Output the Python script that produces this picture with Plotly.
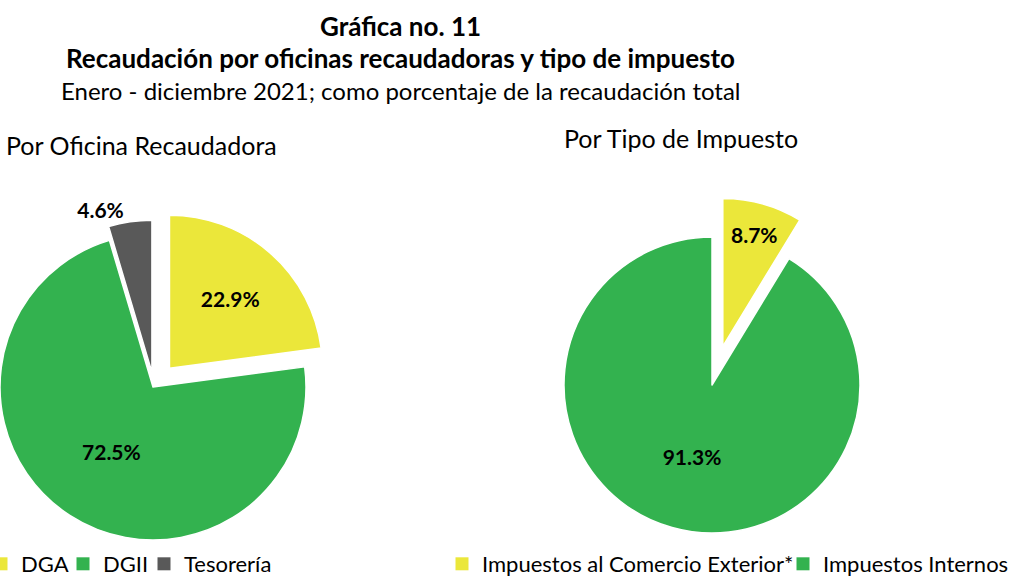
import math
import plotly.graph_objects as go

# ---- data ----
office_labels = ["DGA", "DGII", "Tesorería"]
office_values = [22.9, 72.5, 4.6]
tax_labels = ["Impuestos al Comercio Exterior*", "Impuestos Internos"]
tax_values = [8.7, 91.3]

# ---- style ----
W, H = 1019, 577
YELLOW, GREEN, GRAY = "#EBE73A", "#33B24F", "#595959"
office_colors = [YELLOW, GREEN, GRAY]
tax_colors = [YELLOW, GREEN]
office_pull_px = [25, 0, 15]
tax_pull_px = [40, 0]
office_textpos = ["inside", "inside", "outside"]
tax_textpos = ["inside", "inside"]
office_legend_x = [2, 84, 165]      # legend symbol centres (px)
tax_legend_x = [463, 804]
FONT = "Lato"


def domain(cx, cy, r):
    x0 = max(cx - r, 0)
    return dict(x=[x0 / W, min(cx + r, W) / W],
                y=[max(1 - (cy + r) / H, 0), min(1 - (cy - r) / H, 1)])


def add_pie(fig, labels, values, colors, pulls, textpos, cx, cy, r):
    total = sum(values)
    cum = 0
    for i, v in enumerate(values):
        mid = (cum + v / 2) / total * 2 * math.pi
        cum += v
        dx = pulls[i] * math.sin(mid)
        dy = -pulls[i] * math.cos(mid)
        cols = [c if j == i else "rgba(0,0,0,0)" for j, c in enumerate(colors)]
        lw = [1.5 if j == i else 0 for j in range(len(values))]
        tt = ["<b>%{value:.1f}%</b>" if j == i else "" for j in range(len(values))]
        fig.add_trace(go.Pie(
            labels=labels, values=values, sort=False, direction="clockwise",
            rotation=0, marker=dict(colors=cols, line=dict(color="white", width=lw)),
            texttemplate=tt, textposition=textpos,
            insidetextorientation="horizontal",
            textfont=dict(family=FONT, size=21, color="black"),
            domain=domain(cx + dx, cy + dy, r), showlegend=False, hoverinfo="skip"))


fig = go.Figure()
add_pie(fig, office_labels, office_values, office_colors, office_pull_px, office_textpos, 153, 387, 153)
add_pie(fig, tax_labels, tax_values, tax_colors, tax_pull_px, tax_textpos, 712, 385, 148)

# legend entries, each in its own legend box
legends = {}
k = 1
for labs, cols, xs in [(office_labels, office_colors, office_legend_x),
                       (tax_labels, tax_colors, tax_legend_x)]:
    for lab, col, lx in zip(labs, cols, xs):
        name = "legend" if k == 1 else f"legend{k}"
        fig.add_trace(go.Scatter(x=[None], y=[None], mode="markers", name=lab,
                                 marker=dict(symbol="square", size=13, color=col), legend=name))
        legends[name] = dict(orientation="h", x=(lx - 21) / W, y=1 - 564 / H,
                             xanchor="left", yanchor="middle",
                             font=dict(family=FONT, size=22), bgcolor="rgba(0,0,0,0)")
        k += 1

ann = [
    dict(text="<b>Gráfica no. 11</b>", x=400 / W, y=1 - 26 / H, size=26),
    dict(text="<b>Recaudación por oficinas recaudadoras y tipo de impuesto</b>", x=400 / W, y=1 - 58 / H, size=26),
    dict(text="Enero - diciembre 2021; como porcentaje de la recaudación total", x=401 / W, y=1 - 90 / H, size=24),
    dict(text="Por Oficina Recaudadora", x=141 / W, y=1 - 145 / H, size=25),
    dict(text="Por Tipo de Impuesto", x=681 / W, y=1 - 138 / H, size=25),
]
fig.update_layout(
    width=W, height=H, margin=dict(l=0, r=0, t=0, b=0, autoexpand=False),
    paper_bgcolor="white", plot_bgcolor="white",
    font=dict(family=FONT, color="black"),
    xaxis=dict(visible=False), yaxis=dict(visible=False),
    annotations=[dict(text=a["text"], x=a["x"], y=a["y"], xref="paper", yref="paper",
                      xanchor="center", yanchor="middle", showarrow=False,
                      font=dict(family=FONT, size=a["size"], color="black")) for a in ann],
    **legends,
)
fig.write_html("out.html", config={"displayModeBar": False},
               post_script="document.body.style.margin='0';")
